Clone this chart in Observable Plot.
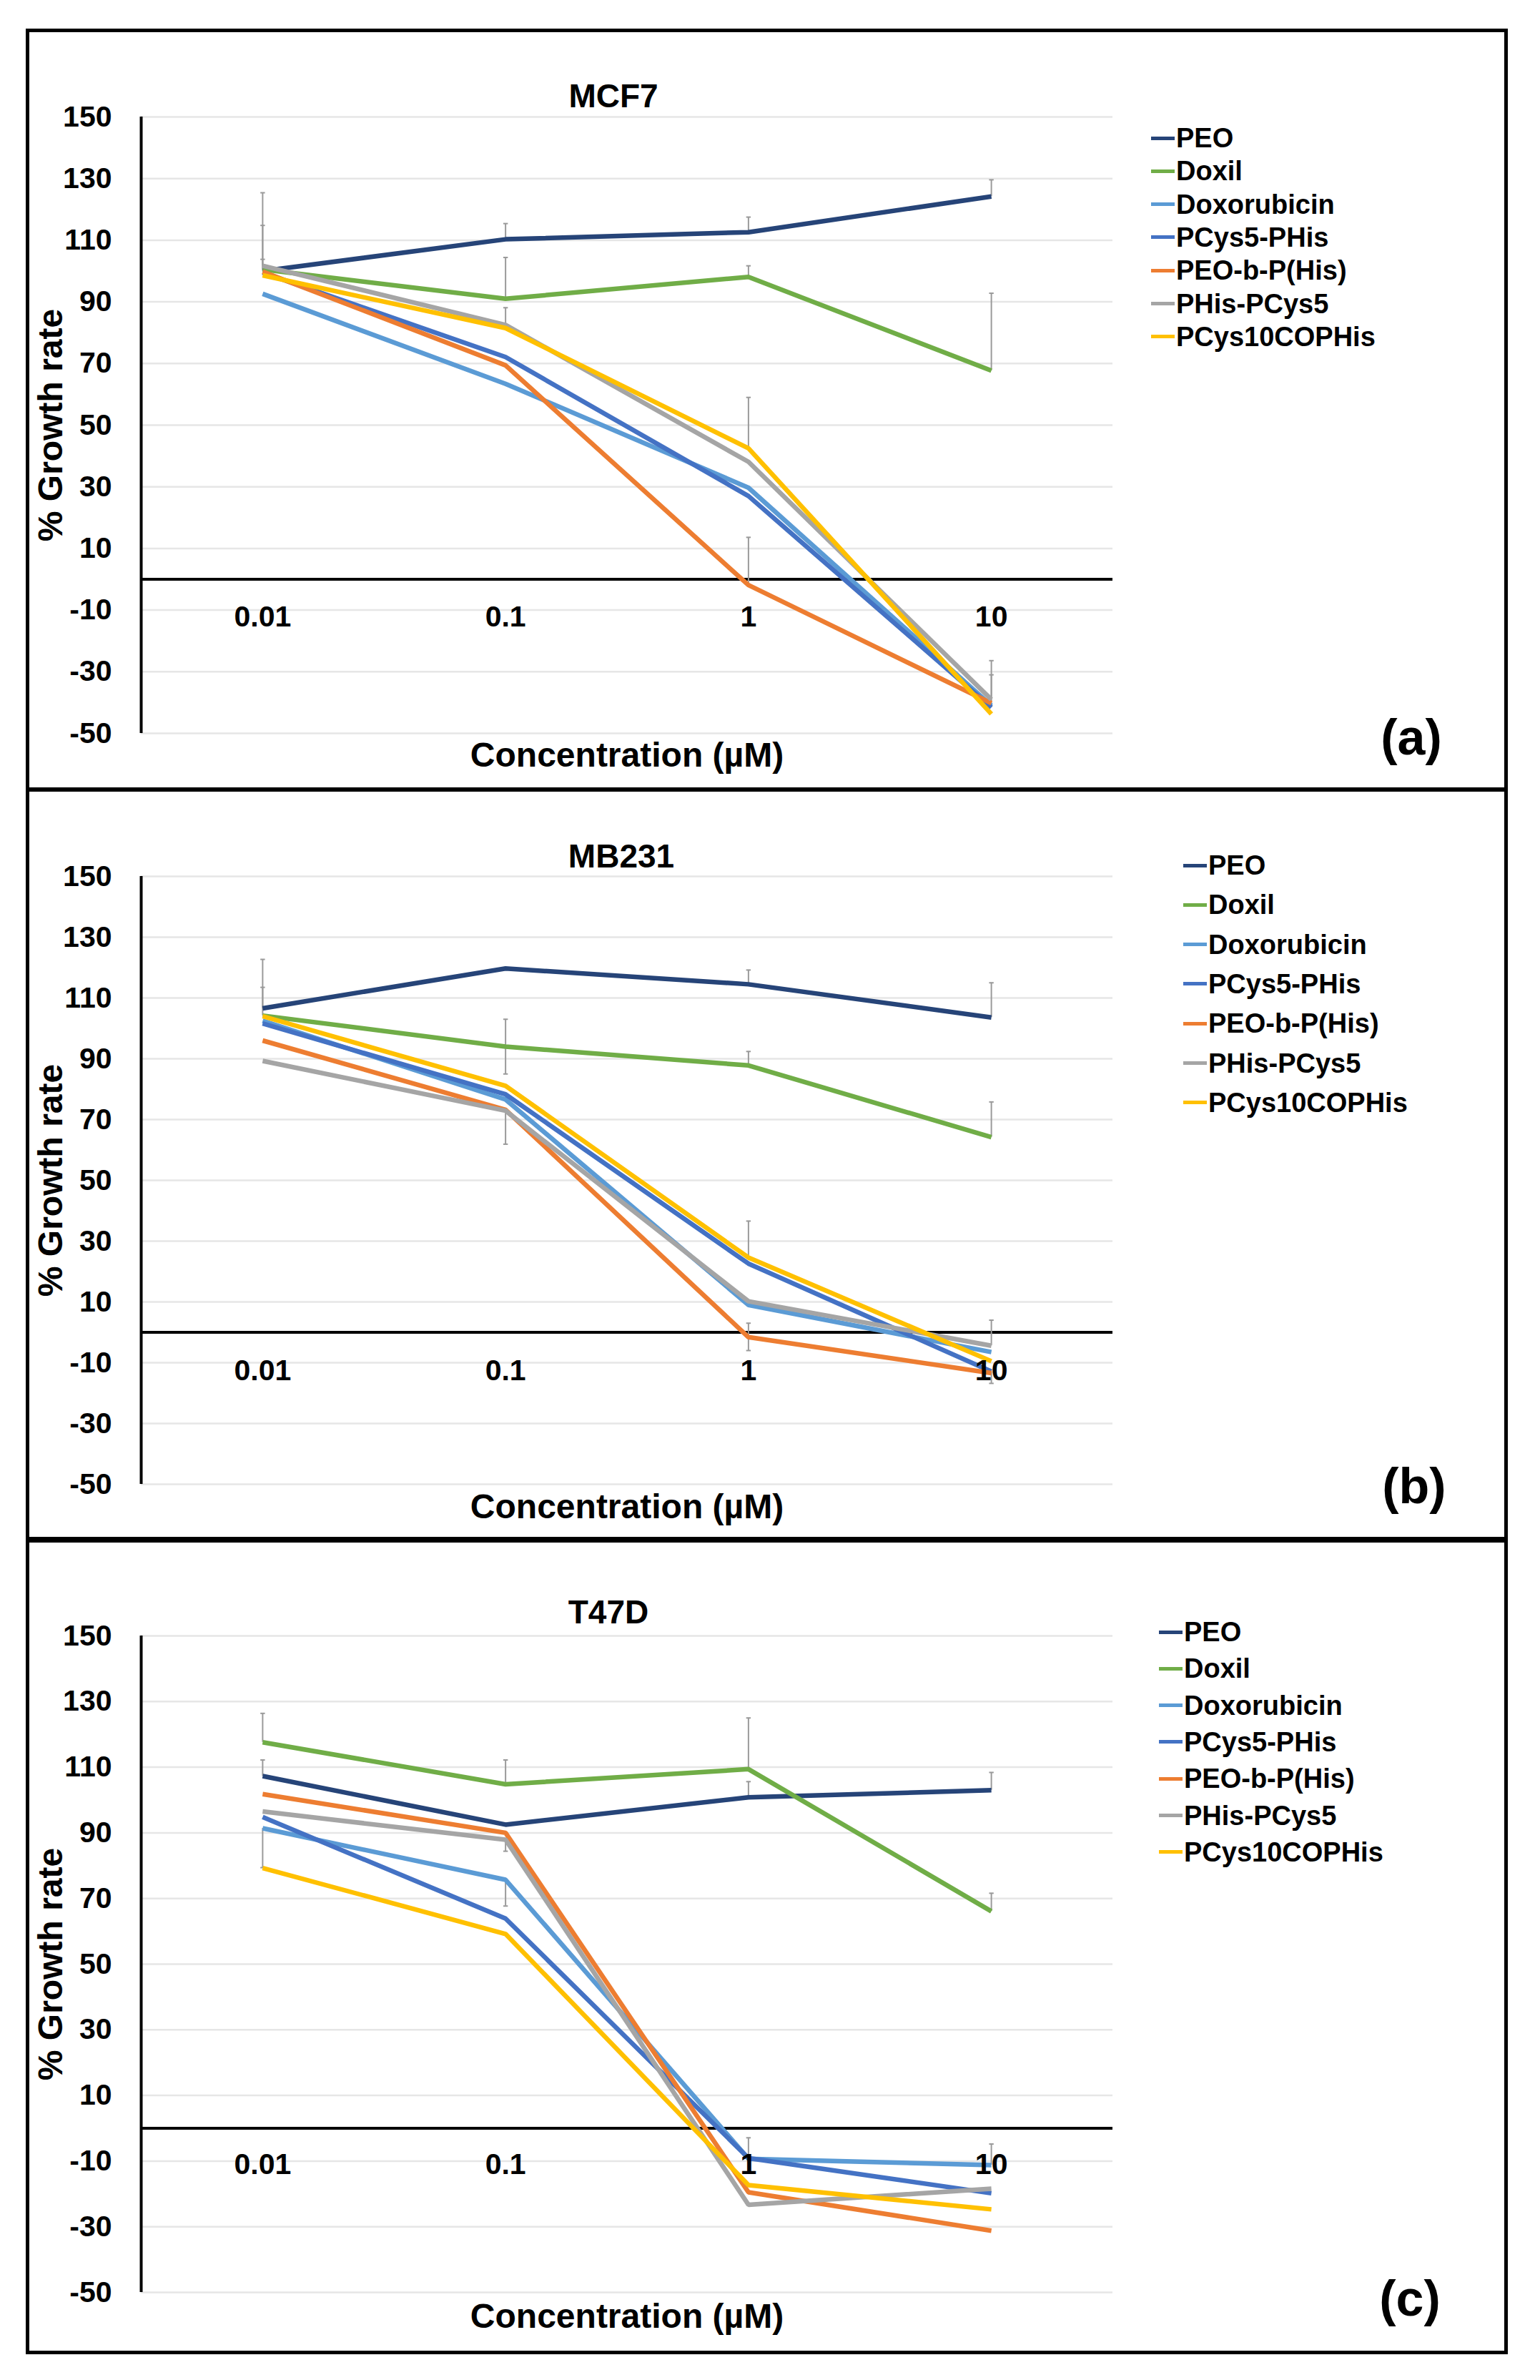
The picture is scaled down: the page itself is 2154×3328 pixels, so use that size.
<!DOCTYPE html>
<html>
<head>
<meta charset="utf-8">
<script src="https://cdn.jsdelivr.net/npm/d3@7"></script>
<script src="https://cdn.jsdelivr.net/npm/@observablehq/plot@0.6"></script>
<style>
html,body{margin:0;padding:0;background:#fff;}
body{width:2154px;height:3328px;position:relative;overflow:hidden;font-family:"Liberation Sans",Arial,sans-serif;color:#000;}
.frame{position:absolute;box-sizing:border-box;border:5px solid #000;left:36px;width:2073px;}
.plot{position:absolute;left:0;}
.item{position:absolute;white-space:nowrap;font-weight:bold;font-size:38px;line-height:1;display:flex;align-items:center;transform:translateY(-50%);}
.sw{display:inline-block;width:33px;height:5px;margin-right:2px;}
.title{position:absolute;font-weight:bold;font-size:46px;line-height:1;transform:translate(-50%,-50%);white-space:nowrap;}
.tag{position:absolute;font-weight:bold;font-size:70px;line-height:1;transform:translate(-50%,-50%);}
</style>
</head>
<body>
<script>
// ---- data ----
const concentrations = [0.01, 0.1, 1, 10];
const concLabels = ["0.01", "0.1", "1", "10"];
const seriesNames = ["PEO", "Doxil", "Doxorubicin", "PCys5-PHis", "PEO-b-P(His)", "PHis-PCys5", "PCys10COPHis"];
const seriesColors = ["#264478", "#70AD47", "#5B9BD5", "#4472C4", "#ED7D31", "#A5A5A5", "#FFC000"];
const yTicks = [-50, -30, -10, 10, 30, 50, 70, 90, 110, 130, 150];
const panelTitles = ["MCF7", "MB231", "T47D"];
const panelTags = ["(a)", "(b)", "(c)"];
const xTitle = "Concentration (µM)";
const yTitle = "% Growth rate";

const mcf7Values = [
  [100, 110.3, 112.6, 124.2],
  [100.5, 91, 98.1, 67.7],
  [92.6, 63.4, 29.7, -41],
  [99.5, 72.1, 27, -41.6],
  [99.8, 69.4, -1.9, -40.2],
  [101.7, 82.5, 38.1, -39],
  [98.6, 81.5, 42.5, -43.7]
];
const mcf7ErrUp = [
  [25.4, 5.1, 4.9, 5.4],
  [14.3, 13.4, 3.6, 25.1],
  [0, 0, 0, 0],
  [0, 0, 0, 10.6],
  [0, 0, 15.5, 0],
  [2.1, 5.6, 0, 12.6],
  [0, 0, 16.5, 0]
];
const mcf7ErrDown = [
  [0, 0, 0, 0], [0, 0, 0, 0], [0, 0, 0, 0], [0, 0, 0, 0],
  [0, 0, 0, 0], [0, 0, 0, 0], [0, 0, 0, 0]
];

const mb231Values = [
  [106.6, 119.7, 114.5, 103.6],
  [104.2, 94, 87.8, 64.2],
  [102.5, 76.6, 9, -6.5],
  [101.6, 78.3, 22.6, -12.9],
  [96, 73.2, -1.6, -13.4],
  [89.3, 72.9, 10.2, -4.4],
  [104, 81.1, 24.6, -9.5]
];
const mb231ErrUp = [
  [16.1, 0, 4.7, 11.4],
  [9.3, 9, 4.6, 11.6],
  [0, 0, 0, 0],
  [0, 0, 0, 0],
  [0, 0, 4.6, 0],
  [0, 0, 0, 8.4],
  [0, 0, 12, 0]
];
const mb231ErrDown = [
  [0, 0, 0, 0],
  [0, 9, 0, 0],
  [0, 0, 0, 0],
  [0, 0, 0, 3.9],
  [0, 0, 4.4, 0],
  [0, 11, 0, 0],
  [0, 0, 0, 0]
];

const t47dValues = [
  [107.3, 92.5, 100.8, 103],
  [117.6, 104.8, 109.4, 66.1],
  [91.4, 75.7, -9.3, -11.2],
  [94.8, 63.9, -9.1, -19.8],
  [101.8, 90, -19.5, -31.2],
  [96.5, 87.9, -23.3, -18.4],
  [79.3, 59.2, -17.3, -24.7]
];
const t47dErrUp = [
  [4.9, 0, 4.8, 5.4],
  [8.8, 7.4, 15.6, 5.5],
  [0, 0, 0, 6.4],
  [0, 0, 6.2, 0],
  [0, 0, 0, 0],
  [0, 0, 0, 0],
  [0, 0, 0, 0]
];
const t47dErrDown = [
  [0, 0, 0, 0],
  [0, 0, 0, 0],
  [12, 8, 0, 0],
  [0, 0, 0, 0],
  [0, 0, 0, 0],
  [0, 3.5, 0, 0],
  [0, 0, 0, 0]
];

// ---- layout (pixels) ----
const layouts = [
  {frameTop: 40, frameBottom: 1106, yTop: 163, yBottom: 1025, titleX: 858, titleY: 134, legX: 1610, legY: 193, legStep: 46.3, tagX: 1974, tagY: 1031, xLabelDy: 53, xTitleDy: 31},
  {frameTop: 1102, frameBottom: 2154, yTop: 1225, yBottom: 2075, titleX: 869, titleY: 1197, legX: 1655, legY: 1210, legStep: 55.3, tagX: 1978, tagY: 2078, xLabelDy: 54, xTitleDy: 32},
  {frameTop: 2152, frameBottom: 3292, yTop: 2287, yBottom: 3205, titleX: 851, titleY: 2254, legX: 1621, legY: 2282, legStep: 51.3, tagX: 1972, tagY: 3214, xLabelDy: 51, xTitleDy: 34}
];
const panelData = [
  [mcf7Values, mcf7ErrUp, mcf7ErrDown],
  [mb231Values, mb231ErrUp, mb231ErrDown],
  [t47dValues, t47dErrUp, t47dErrDown]
];

const W = 2154, plotLeft = 197, plotRight = 1556;
const xDomain = [Math.pow(10, -2.5), Math.pow(10, 1.5)];
const font = "'Liberation Sans', Arial, sans-serif";

layouts.forEach((L, p) => {
  const [vals, up, down] = panelData[p];
  const rows = [];
  const errRows = [];
  const capRows = [];
  seriesNames.forEach((s, i) => {
    concentrations.forEach((c, j) => {
      const v = vals[i][j];
      rows.push({s, c, v});
      if (up[i][j] > 0) { errRows.push({c, lo: v, hi: v + up[i][j]}); capRows.push({c, y: v + up[i][j]}); }
      if (down[i][j] > 0) { errRows.push({c, lo: v - down[i][j], hi: v}); capRows.push({c, y: v - down[i][j]}); }
    });
  });
  const labelRows = concentrations.map((c, j) => ({c, label: concLabels[j]}));

  const frame = document.createElement("div");
  frame.className = "frame";
  frame.style.top = L.frameTop + "px";
  frame.style.height = (L.frameBottom - L.frameTop) + "px";
  document.body.appendChild(frame);

  const top = L.frameTop + 10;
  const H = L.frameBottom - 10 - top;
  const chart = Plot.plot({
    width: W,
    height: H,
    marginLeft: plotLeft,
    marginRight: W - plotRight,
    marginTop: L.yTop - top,
    marginBottom: top + H - L.yBottom,
    style: {fontFamily: font, background: "transparent", overflow: "visible", color: "#000"},
    x: {type: "log", domain: xDomain, axis: null},
    y: {domain: [-50, 150], axis: null},
    color: {domain: seriesNames, range: seriesColors},
    marks: [
      Plot.gridY(yTicks, {stroke: "#e6e6e6", strokeOpacity: 1, strokeWidth: 2.5}),
      Plot.axisY(yTicks, {tickSize: 0, tickPadding: 41, fontSize: 41, fontWeight: "bold", tickFormat: d => String(d), label: null, fill: "#000"}),
      Plot.ruleX([xDomain[0]], {stroke: "#000", strokeWidth: 4}),
      Plot.ruleY([0], {stroke: "#000", strokeWidth: 4}),
      Plot.ruleX(errRows, {x: "c", y1: "lo", y2: "hi", stroke: "#9a9a9a", strokeWidth: 2}),
      Plot.link(capRows, {x1: d => d.c / 1.022, x2: d => d.c * 1.022, y1: "y", y2: "y", stroke: "#9a9a9a", strokeWidth: 2}),
      Plot.line(rows, {x: "c", y: "v", z: "s", stroke: "s", strokeWidth: 6.5, strokeLinejoin: "miter", strokeLinecap: "butt"}),
      Plot.text(labelRows, {x: "c", y: () => 0, text: "label", dy: L.xLabelDy, fontSize: 41, fontWeight: "bold", fill: "#000"}),
      Plot.text([xTitle], {text: d => d, frameAnchor: "bottom", dy: L.xTitleDy, fontSize: 48, fontWeight: "bold", fill: "#000", lineAnchor: "middle"}),
      Plot.text([yTitle], {text: d => d, frameAnchor: "left", textAnchor: "middle", dx: -126, rotate: -90, fontSize: 48, fontWeight: "bold", fill: "#000", lineAnchor: "middle"})
    ]
  });
  chart.classList.add("plot");
  chart.style.top = top + "px";
  document.body.appendChild(chart);

  const title = document.createElement("div");
  title.className = "title";
  title.textContent = panelTitles[p];
  title.style.left = L.titleX + "px";
  title.style.top = L.titleY + "px";
  document.body.appendChild(title);

  seriesNames.forEach((s, i) => {
    const item = document.createElement("div");
    item.className = "item";
    item.style.left = L.legX + "px";
    item.style.top = (L.legY + i * L.legStep) + "px";
    const sw = document.createElement("span");
    sw.className = "sw";
    sw.style.background = seriesColors[i];
    const tx = document.createElement("span");
    tx.textContent = s;
    item.appendChild(sw);
    item.appendChild(tx);
    document.body.appendChild(item);
  });

  const tag = document.createElement("div");
  tag.className = "tag";
  tag.textContent = panelTags[p];
  tag.style.left = L.tagX + "px";
  tag.style.top = L.tagY + "px";
  document.body.appendChild(tag);
});
</script>
</body>
</html>
